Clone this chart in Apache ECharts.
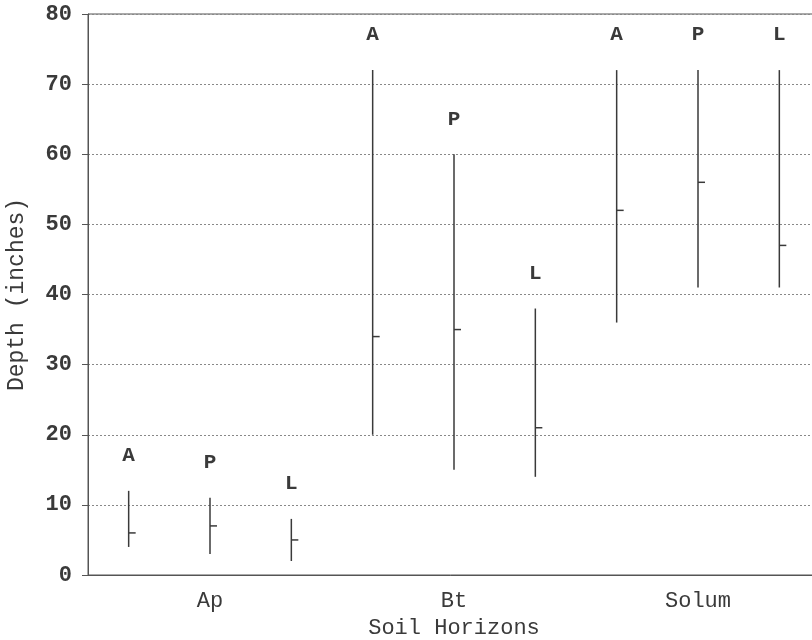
<!DOCTYPE html>
<html>
<head>
<meta charset="utf-8">
<script src="https://cdn.jsdelivr.net/npm/echarts@6/dist/echarts.min.js"></script>
<style>html,body{margin:0;padding:0;background:#fff;}#c{width:812px;height:640px;}</style>
</head>
<body>
<div id="c"></div>
<script>
var horizons = ['Ap', 'Ap', 'Ap', 'Bt', 'Bt', 'Bt', 'Solum', 'Solum', 'Solum'];
var letters  = ['A', 'P', 'L', 'A', 'P', 'L', 'A', 'P', 'L'];
var lows  = [4, 3, 2, 20, 15, 14, 36, 41, 41];
var highs = [12, 11, 8, 72, 60, 38, 72, 72, 72];
var means = [6, 7, 5, 34, 35, 21, 52, 56, 47];
var yTicks = [0, 10, 20, 30, 40, 50, 60, 70, 80];

var categories = horizons.map(function (h, i) { return h + '-' + letters[i]; });
var data = categories.map(function (c, i) { return [i, lows[i], highs[i], means[i], letters[i]]; });
var FONT = 'Liberation Mono';
var INK = '#3a3a3a';

var chart = echarts.init(document.getElementById('c'), null, { renderer: 'canvas' });
chart.setOption({
  animation: false,
  backgroundColor: '#fff',
  grid: {
    left: 88, top: 14, width: 732, height: 561,
    containLabel: false, outerBoundsMode: 'none',
    show: true, borderColor: '#555', borderWidth: 1, backgroundColor: 'transparent'
  },
  xAxis: {
    type: 'category',
    data: categories,
    boundaryGap: true,
    name: 'Soil Horizons',
    nameLocation: 'middle',
    nameGap: 42,
    nameTextStyle: { fontFamily: FONT, fontSize: 22, color: INK },
    axisLine: { lineStyle: { color: '#555', width: 1 } },
    axisTick: { alignWithLabel: true, interval: 0, length: 6, lineStyle: { color: '#555' } },
    axisLabel: {
      interval: 0, margin: 15, fontFamily: FONT, fontSize: 22, color: INK,
      formatter: function (v, i) { return (i % 3 === 1) ? horizons[i] : ''; }
    },
    splitLine: { show: false }
  },
  yAxis: {
    type: 'value',
    min: yTicks[0], max: yTicks[yTicks.length - 1], interval: 10,
    name: 'Depth (inches)',
    nameLocation: 'middle',
    nameGap: 60,
    nameRotate: 90,
    nameTextStyle: { fontFamily: FONT, fontSize: 23, color: INK },
    axisLine: { show: true, lineStyle: { color: '#555', width: 1 } },
    axisTick: { show: true, length: 6, lineStyle: { color: '#555' } },
    axisLabel: { margin: 16, fontFamily: FONT, fontSize: 22, fontWeight: 'bold', color: INK },
    splitLine: { show: true, lineStyle: { color: '#888', type: [2, 2], width: 1 } }
  },
  series: [{
    type: 'custom',
    data: data,
    clip: false,
    encode: { x: 0, y: [1, 2, 3] },
    renderItem: function (params, api) {
      var idx = api.value(0);
      var lo = api.coord([idx, api.value(1)]);
      var hi = api.coord([idx, api.value(2)]);
      var m = api.coord([idx, api.value(3)]);
      return {
        type: 'group',
        children: [
          { type: 'line', shape: { x1: lo[0], y1: lo[1], x2: hi[0], y2: hi[1] }, style: { stroke: INK, lineWidth: 1.5 } },
          { type: 'line', shape: { x1: m[0], y1: m[1], x2: m[0] + 7, y2: m[1] }, style: { stroke: INK, lineWidth: 1.5 } },
          { type: 'text', style: { x: hi[0], y: hi[1] - 35, text: letters[params.dataIndex], align: 'center', verticalAlign: 'middle', fontFamily: FONT, fontSize: 21, fontWeight: 'bold', fill: INK } }
        ]
      };
    }
  }]
});
</script>
</body>
</html>
